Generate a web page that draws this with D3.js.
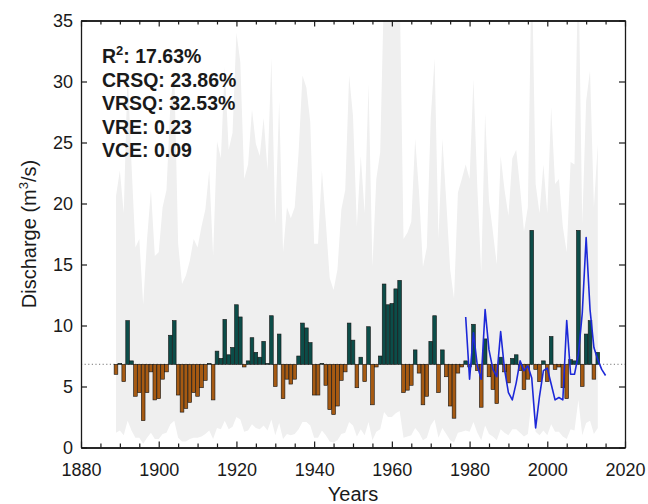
<!DOCTYPE html>
<html>
<head>
<meta charset="utf-8">
<script src="https://cdn.jsdelivr.net/npm/d3@7"></script>
<style>
  html, body { margin: 0; padding: 0; background: #fff; }
  svg text { font-family: "Liberation Sans", Arial, Helvetica, sans-serif; fill: #1a1a1a; }
</style>
</head>
<body>
<div id="chart"></div>
<script>
// reconstructed discharge, one bar per year (m3/s)
const barYears = d3.range(1889, 2014);
const discharge = [
  6.0, 6.9, 5.4, 10.4, 7.1, 4.2, 4.5, 2.2, 4.5, 6.2,
  3.9, 4.0, 5.6, 6.2, 9.2, 10.4, 4.3, 2.9, 3.2, 3.7,
  4.5, 4.2, 4.9, 5.5, 6.9, 3.9, 7.9, 7.3, 10.5, 7.6,
  8.2, 11.7, 10.7, 6.6, 7.1, 9.0, 7.8, 7.4, 8.7, 6.9,
  10.8, 5.0, 9.3, 4.0, 5.6, 5.2, 5.6, 7.5, 10.2, 9.8,
  8.6, 4.3, 4.3, 6.9, 5.1, 3.1, 2.7, 3.4, 5.5, 6.2,
  10.2, 8.8, 4.9, 7.4, 5.4, 9.9, 3.5, 6.6, 7.5, 13.4,
  11.7, 11.8, 13.0, 13.7, 4.5, 4.7, 5.1, 8.0, 6.1, 3.5,
  4.2, 8.7, 10.8, 4.5, 8.0, 5.8, 3.4, 2.4, 6.1, 6.6,
  7.1, 6.6, 10.1, 6.3, 3.3, 8.9, 5.8, 4.75, 3.6, 7.4,
  6.2, 5.3, 7.3, 7.6, 6.3, 4.75, 5.6, 17.8, 6.4, 5.4,
  7.1, 5.4, 9.1, 6.4, 6.6, 4.9, 4.0, 7.2, 7.1, 17.8,
  5.0, 9.3, 10.4, 5.6, 7.8
];

// uncertainty band (upper / lower bound)
const bandUpper = [
  20.6, 22.7, 19.2, 30.9, 23.2, 16.4, 17.1, 11.7, 17.1, 21.1,
  15.7, 16.0, 19.7, 21.1, 28.1, 30.9, 16.7, 13.4, 14.1, 15.3,
  17.1, 16.4, 18.1, 19.5, 22.7, 15.7, 25.1, 23.7, 31.2, 24.4,
  25.8, 34.0, 31.6, 22.0, 23.2, 27.7, 24.9, 23.9, 27.0, 22.7,
  31.9, 18.3, 28.4, 16.0, 19.7, 18.8, 19.7, 24.2, 30.5, 29.5,
  26.7, 16.7, 16.7, 22.7, 18.5, 13.9, 12.9, 14.6, 19.5, 21.1,
  30.5, 27.2, 18.1, 23.9, 19.2, 29.8, 14.8, 22.0, 24.2, 38.0,
  37.0, 37.0, 37.5, 38.0, 17.1, 17.6, 18.5, 25.3, 20.9, 14.8,
  16.4, 27.0, 31.9, 17.1, 25.3, 20.2, 14.6, 12.2, 20.9, 22.0,
  23.2, 22.0, 30.2, 21.3, 14.3, 27.4, 20.2, 17.7, 15.0, 23.9,
  21.1, 19.0, 23.7, 24.4, 21.3, 17.7, 19.7, 40.0, 21.6, 19.2,
  23.2, 19.2, 27.9, 21.6, 22.0, 18.1, 16.0, 23.4, 23.2, 40.0,
  18.3, 28.4, 30.9, 19.7, 24.9
];
const bandLower = [
  1.2, 1.4, 1.0, 2.2, 1.4, 0.8, 0.8, 0.3, 0.8, 1.2,
  0.7, 0.7, 1.1, 1.2, 1.9, 2.2, 0.8, 0.5, 0.5, 0.7,
  0.8, 0.8, 0.9, 1.1, 1.4, 0.7, 1.6, 1.5, 2.2, 1.5,
  1.7, 2.5, 2.3, 1.3, 1.4, 1.9, 1.6, 1.5, 1.8, 1.4,
  2.3, 1.0, 2.0, 0.7, 1.1, 1.0, 1.1, 1.5, 2.1, 2.1,
  1.8, 0.8, 0.8, 1.4, 1.0, 0.5, 0.4, 0.6, 1.1, 1.2,
  2.1, 1.8, 0.9, 1.5, 1.0, 2.1, 0.6, 1.3, 1.5, 2.9,
  2.5, 2.5, 2.8, 3.0, 0.8, 0.9, 1.0, 1.6, 1.2, 0.6,
  0.8, 1.8, 2.3, 0.8, 1.6, 1.1, 0.6, 0.4, 1.2, 1.3,
  1.4, 1.3, 2.1, 1.2, 0.6, 1.8, 1.1, 0.9, 0.6, 1.5,
  1.2, 1.0, 1.5, 1.5, 1.2, 0.9, 1.1, 3.9, 1.3, 1.0,
  1.4, 1.0, 1.9, 1.3, 1.3, 0.9, 0.7, 1.5, 1.4, 3.9,
  1.0, 2.0, 2.2, 1.1, 1.6
];

// observed discharge (blue line)
const obsYears = d3.range(1979, 2016);
const observed = [
  10.7, 5.6, 9.4, 6.7, 5.6, 11.3, 8.0, 6.4, 5.8, 9.5,
  6.4, 4.5, 3.9, 5.3, 7.1, 6.3, 6.7, 5.7, 1.6, 4.2,
  6.3, 6.5, 5.2, 3.9, 4.1, 3.9, 10.4, 6.0, 6.0, 7.6,
  11.0, 17.2, 11.3, 8.2, 7.2, 6.4, 5.9
];

const meanFlow = 6.82;
const xMajorTicks = [1880, 1900, 1920, 1940, 1960, 1980, 2000, 2020];
const xMinorTicks = d3.range(1880, 2021, 5).filter(v => v % 20 !== 0);
const yTicks = [0, 5, 10, 15, 20, 25, 30, 35];
const statLabels = ["CRSQ: 23.86%", "VRSQ: 32.53%", "VRE: 0.23", "VCE: 0.09"];

const width = 648;
const height = 504;
const plotLeft = 81, plotRight = 625, plotTop = 20.5, plotBottom = 447.5;

const x = d3.scaleLinear().domain([1880, 2020]).range([plotLeft, plotRight]);
const y = d3.scaleLinear().domain([0, 35]).range([plotBottom, plotTop]);

const svg = d3.select("#chart")
  .append("svg")
  .attr("width", width)
  .attr("height", height);

svg.append("clipPath").attr("id", "plot-clip")
  .append("rect")
  .attr("x", plotLeft).attr("y", plotTop)
  .attr("width", plotRight - plotLeft).attr("height", plotBottom - plotTop);

const plot = svg.append("g").attr("clip-path", "url(#plot-clip)");

// gray band
const bandData = barYears.map((yr, i) => ({ year: yr, lo: bandLower[i], hi: bandUpper[i] }));
plot.append("path")
  .datum(bandData)
  .attr("fill", "#efefef")
  .attr("d", d3.area().x(d => x(d.year)).y0(d => y(d.lo)).y1(d => y(d.hi)));

// mean line
plot.append("line")
  .attr("x1", plotLeft).attr("x2", plotRight)
  .attr("y1", y(meanFlow)).attr("y2", y(meanFlow))
  .attr("stroke", "#777")
  .attr("stroke-width", 1)
  .attr("stroke-dasharray", "1.2,2.4");

// bars from the mean
const step = x(1881) - x(1880);
const bw = step * 0.95;
plot.selectAll("rect.bar")
  .data(barYears.map((yr, i) => ({ year: yr, v: discharge[i] })))
  .enter()
  .append("rect")
  .attr("class", "bar")
  .attr("x", d => x(d.year) - bw / 2)
  .attr("width", bw)
  .attr("y", d => y(Math.max(d.v, meanFlow)))
  .attr("height", d => Math.abs(y(d.v) - y(meanFlow)))
  .attr("fill", d => d.v >= meanFlow ? "#0c4d49" : "#a65a12")
  .attr("stroke", "#151515")
  .attr("stroke-width", 0.6);

// observed line
plot.append("path")
  .datum(obsYears.map((yr, i) => ({ year: yr, v: observed[i] })))
  .attr("fill", "none")
  .attr("stroke", "#1c28d8")
  .attr("stroke-width", 1.6)
  .attr("stroke-linejoin", "round")
  .attr("d", d3.line().x(d => x(d.year)).y(d => y(d.v)));

// axes (box with inward ticks)
function styleAxis(g) {
  g.select(".domain").attr("stroke", "#1a1a1a").attr("stroke-width", 1.3);
  g.selectAll(".tick line").attr("stroke", "#1a1a1a").attr("stroke-width", 1.2);
  g.selectAll(".tick text").attr("font-size", 18).attr("fill", "#1a1a1a");
}

const xb = svg.append("g").attr("transform", `translate(0,${plotBottom})`)
  .call(d3.axisBottom(x).tickValues(xMajorTicks).tickFormat(d3.format("d")).tickSize(-6).tickSizeOuter(0));
xb.selectAll(".tick text").attr("y", 28).attr("dy", null);
styleAxis(xb);
svg.append("g").attr("transform", `translate(0,${plotBottom})`)
  .call(d3.axisBottom(x).tickValues(xMinorTicks).tickFormat("").tickSize(-4).tickSizeOuter(0))
  .call(styleAxis);

svg.append("g").attr("transform", `translate(0,${plotTop})`)
  .call(d3.axisTop(x).tickValues(xMajorTicks).tickFormat("").tickSize(-6).tickSizeOuter(0))
  .call(styleAxis);
svg.append("g").attr("transform", `translate(0,${plotTop})`)
  .call(d3.axisTop(x).tickValues(xMinorTicks).tickFormat("").tickSize(-4).tickSizeOuter(0))
  .call(styleAxis);

const yl = svg.append("g").attr("transform", `translate(${plotLeft},0)`)
  .call(d3.axisLeft(y).tickValues(yTicks).tickSize(-6).tickPadding(8).tickSizeOuter(0));
styleAxis(yl);

svg.append("g").attr("transform", `translate(${plotRight},0)`)
  .call(d3.axisRight(y).tickValues(yTicks).tickFormat("").tickSize(-6).tickSizeOuter(0))
  .call(styleAxis);

// axis titles
svg.append("text")
  .attr("x", (plotLeft + plotRight) / 2)
  .attr("y", 501)
  .attr("text-anchor", "middle")
  .attr("font-size", 20)
  .text("Years");

const ylab = svg.append("text")
  .attr("transform", `translate(36,${(plotTop + plotBottom) / 2}) rotate(-90)`)
  .attr("text-anchor", "middle")
  .attr("font-size", 20);
ylab.append("tspan").text("Discharge (m");
ylab.append("tspan").attr("font-size", 13).attr("dy", -8).text("3");
ylab.append("tspan").attr("dy", 8).text("/s)");

// statistics
const stats = svg.append("g").attr("font-size", 19.5).attr("font-weight", "bold");
const r2 = stats.append("text").attr("x", 102).attr("y", 63);
r2.append("tspan").text("R");
r2.append("tspan").attr("font-size", 13).attr("dy", -8).text("2");
r2.append("tspan").attr("dy", 8).text(": 17.63%");
stats.selectAll("text.stat")
  .data(statLabels)
  .enter()
  .append("text")
  .attr("class", "stat")
  .attr("x", 102)
  .attr("y", (d, i) => 86.5 + i * 23.5)
  .text(d => d);
</script>
</body>
</html>
